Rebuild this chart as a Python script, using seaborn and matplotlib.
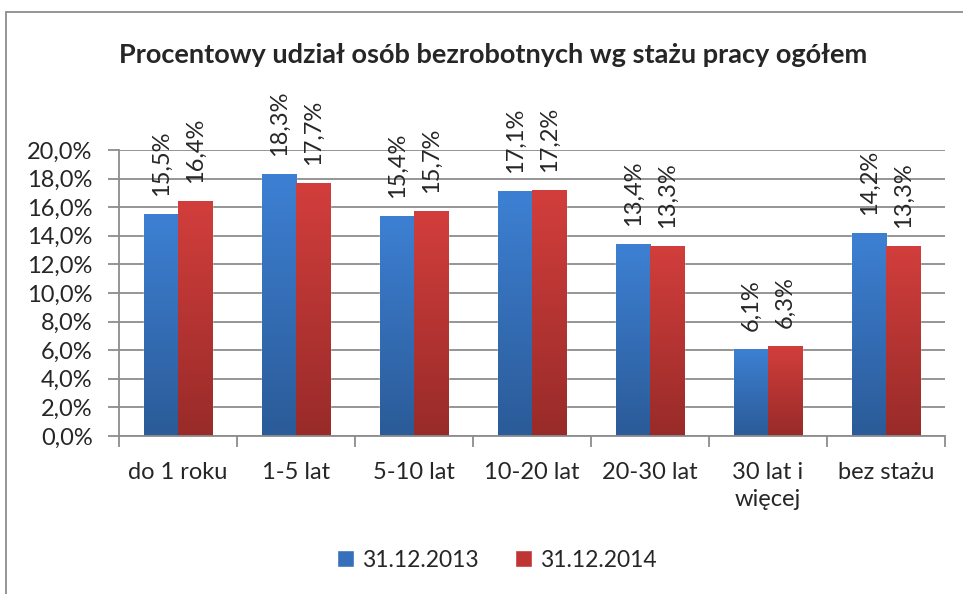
import numpy as np
import pandas as pd
import seaborn as sns
import matplotlib.pyplot as plt
from matplotlib.patches import Rectangle
from matplotlib.colors import LinearSegmentedColormap

categories = ["do 1 roku", "1-5 lat", "5-10 lat", "10-20 lat", "20-30 lat", "30 lat i\nwięcej", "bez stażu"]
v2013 = [15.5, 18.3, 15.4, 17.1, 13.4, 6.1, 14.2]
v2014 = [16.4, 17.7, 15.7, 17.2, 13.3, 6.3, 13.3]
series = ["31.12.2013", "31.12.2014"]

df = pd.DataFrame({
    "kat": categories * 2,
    "val": v2013 + v2014,
    "seria": [series[0]] * len(categories) + [series[1]] * len(categories),
})

sns.set_style("white")
plt.rcParams["font.family"] = ["Lato", "DejaVu Sans"]
fs = 17

fig = plt.figure(figsize=(9.63, 5.94), dpi=100)
ax = fig.add_axes([0.1236, 0.266, 0.8577, 0.4815])

pal = {series[0]: "#3670bd", series[1]: "#bf3533"}
sns.barplot(data=df, x="kat", y="val", hue="seria", palette=pal, width=0.58,
            saturation=1, ax=ax, legend=True)

# gradient fill (light at top, dark at bottom)
grads = {series[0]: ("#3d80d3", "#2b5b98"), series[1]: ("#d23e3c", "#982b29")}
for cont, s in zip(ax.containers, series):
    cmap = LinearSegmentedColormap.from_list(s, [grads[s][1], grads[s][0]])
    for p in cont.patches:
        x0, y0 = p.get_x(), p.get_y()
        w, h = p.get_width(), p.get_height()
        im = ax.imshow(np.linspace(0, 1, 100).reshape(-1, 1), cmap=cmap, origin="lower",
                       extent=[x0, x0 + w, y0, y0 + h], aspect="auto", zorder=p.get_zorder())
        im.set_clip_path(p)
    ax.bar_label(cont, labels=[f"{v:.1f}%".replace(".", ",") for v in cont.datavalues],
                 rotation=90, padding=13, fontsize=fs)

ax.set_xlim(-0.5, len(categories) - 0.5)
ax.set_ylim(0, 20)
ax.set_yticks(np.arange(0, 21, 2))
ax.set_yticklabels([f"{t:.1f}%".replace(".", ",") for t in np.arange(0, 21, 2)])
ax.yaxis.grid(True, color="#8c8c8c", linewidth=1.3)
ax.set_axisbelow(True)
ax.set_xlabel("")
ax.set_ylabel("")
for side in ["top", "right"]:
    ax.spines[side].set_visible(False)
for side in ["left", "bottom"]:
    ax.spines[side].set_color("#8c8c8c")
    ax.spines[side].set_linewidth(1.3)

ax.set_xticks(np.arange(len(categories)))
ax.set_xticklabels(categories, fontsize=fs, linespacing=1.35)
ax.tick_params(axis="x", length=0, pad=19)
ax.set_xticks(np.arange(len(categories) + 1) - 0.5, minor=True)
ax.tick_params(axis="x", which="minor", length=8, width=1.3, color="#8c8c8c", bottom=True)
ax.tick_params(axis="y", length=8, width=1.3, color="#8c8c8c", left=True, labelsize=fs, pad=11)

h, l = ax.get_legend_handles_labels()
ax.legend(h, l, loc="center", bbox_to_anchor=(0.516, 0.057), bbox_transform=fig.transFigure,
          ncol=2, frameon=False, fontsize=16.5, handlelength=0.72, handleheight=0.72,
          handletextpad=0.35, columnspacing=1.6)

fig.text(0.512, 0.907, "Procentowy udział osób bezrobotnych wg stażu pracy ogółem",
         ha="center", va="center", fontsize=19.5, fontweight="bold")

fig.patches.append(Rectangle((6 / 963, -0.02), 1.0, 1 - 12 / 594 + 0.02, transform=fig.transFigure,
                             fill=False, edgecolor="#8c8c8c", linewidth=1.3))

fig.savefig("out.png", dpi=100)
